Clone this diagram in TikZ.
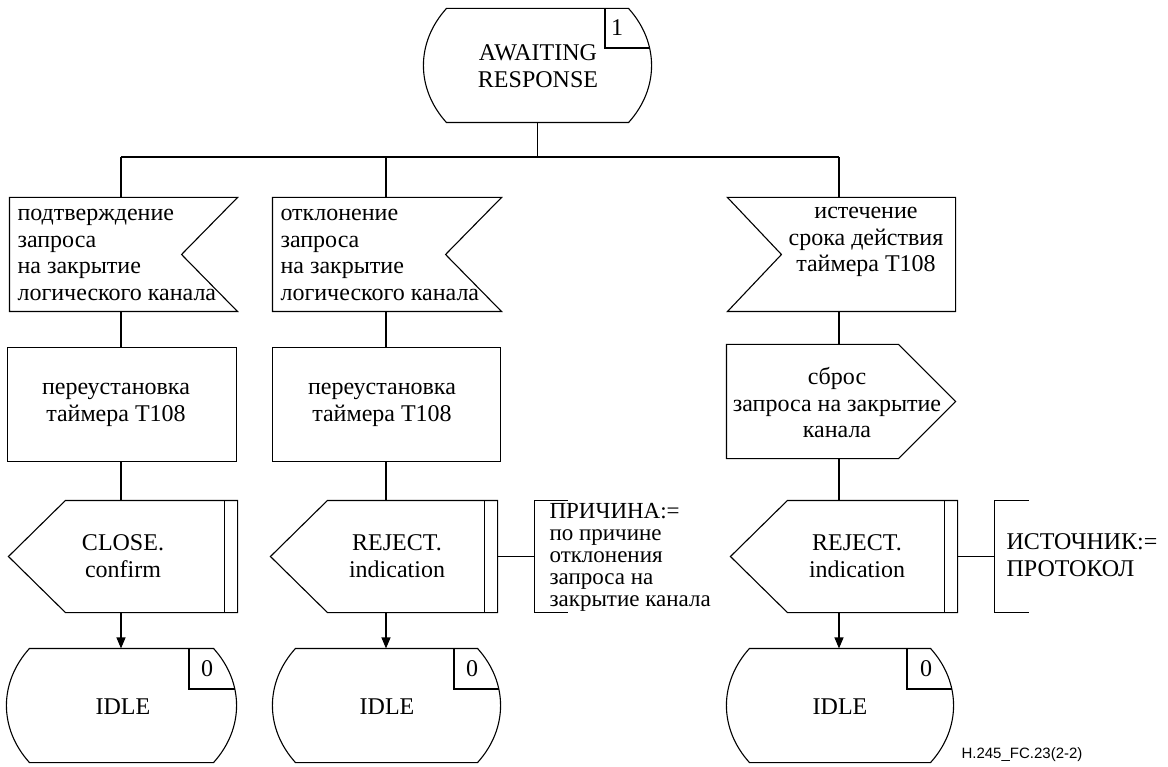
\documentclass[tikz,border=0pt]{standalone}
\usepackage{fontspec}
\setmainfont{Liberation Serif}
\newfontfamily\footfont{Liberation Sans}
\usetikzlibrary{arrows.meta}
\newcommand\StateShape[1]{([xshift=23pt]#1.north west) -- ([xshift=-23pt]#1.north east)
  .. controls ([xshift=7.7pt,yshift=-34pt]#1.north east) and ([xshift=7.7pt,yshift=34pt]#1.south east) .. ([xshift=-23pt]#1.south east)
  -- ([xshift=23pt]#1.south west)
  .. controls ([xshift=-7.7pt,yshift=34pt]#1.south west) and ([xshift=-7.7pt,yshift=-34pt]#1.north west) .. cycle}
\begin{document}
\begin{tikzpicture}[x=1pt,y=-1pt,line width=1.1pt,
  every node/.style={inner sep=0pt,font=\fontsize{24}{26.5}\selectfont},
  bb/.style n args={4}{minimum width={(#2-#1)*1pt},minimum height={(#4-#3)*1pt},at={({(#1+#2)/2},{(#3+#4)/2})}},
  txt/.style={align=center},
  txtl/.style={align=left,anchor=west},
  arr/.style={-{Triangle[length=11pt,width=9pt]}}]
\useasboundingbox (0,0) rectangle (1168,767);
% columns
\coordinate (c1) at (121,0);
\coordinate (c2) at (386,0);
\coordinate (c3) at (839,0);
% ---------- top state
\node[bb={424}{651}{9}{122}] (aw) {};
\draw \StateShape{aw};
\begin{scope}\clip \StateShape{aw};
  \draw (605,0) -- (605,48) -- (700,48);
\end{scope}
\node (aw-n) at (617,28) {1};
\node[txt] (aw-t) at (538,66) {AWAITING\\RESPONSE};
% bus
\coordinate (bus) at (aw.south |- 0,157);
\coordinate (busL) at (c1 |- bus);
\coordinate (busR) at (c3 |- bus);
% ---------- inputs
\node[bb={10}{237}{198}{311}] (r1) {};
\node[bb={273}{501}{198}{311}] (r2) {};
\node[bb={728}{955}{198}{311}] (r3) {};
\draw (r1.north west) -- (r1.north east) -- ([xshift=-56pt]r1.east) -- (r1.south east) -- (r1.south west) -- cycle;
\draw (r2.north west) -- (r2.north east) -- ([xshift=-56pt]r2.east) -- (r2.south east) -- (r2.south west) -- cycle;
\draw (r3.north west) -- (r3.north east) -- (r3.south east) -- (r3.south west) -- ([xshift=54pt]r3.west) -- cycle;
\node[txtl] (r1-t) at (17,255) {подтверждение\\запроса\\на закрытие\\логического канала};
\node[txtl] (r2-t) at (280,255) {отклонение\\запроса\\на закрытие\\логического канала};
\node[txt] (r3-t) at (866,242) {истечение\\срока действия\\таймера T108};
% ---------- tasks
\node[bb={8}{236}{348}{461}] (t1) {};
\node[bb={273}{500}{348}{461}] (t2) {};
\node[bb={727}{955}{345}{458}] (p3) {};
\draw (t1.north west) rectangle (t1.south east);
\draw (t2.north west) rectangle (t2.south east);
\draw (p3.north west) -- ([xshift=-57pt]p3.north east) -- (p3.east) -- ([xshift=-57pt]p3.south east) -- (p3.south west) -- cycle;
\node[txt] (t1-t) at (116,405) {переустановка\\таймера T108};
\node[txt] (t2-t) at (382,405) {переустановка\\таймера T108};
\node[txt] (p3-t) at (837,403) {сброс\\запроса на закрытие\\канала};
% ---------- outputs
\node[bb={9}{237}{501}{612}] (o1) {};
\node[bb={271}{497}{501}{612}] (o2) {};
\node[bb={731}{957}{501}{612}] (o3) {};
\foreach \o in {o1,o2,o3}{
  \draw ([xshift=57pt]\o.north west) -- (\o.north east) -- (\o.south east) -- ([xshift=57pt]\o.south west) -- (\o.west) -- cycle;
  \draw ([xshift=-13pt]\o.north east) -- ([xshift=-13pt]\o.south east);
}
\node[txt] (o1-t) at (123,556) {CLOSE.\\confirm};
\node[txt] (o2-t) at (397,556) {REJECT.\\indication};
\node[txt] (o3-t) at (857,556) {REJECT.\\indication};
% ---------- comments
\node[bb={535}{567}{501}{612}] (cb2) {};
\node[bb={995}{1028}{501}{612}] (cb3) {};
\draw (cb2.north east) -- (cb2.north west) -- (cb2.south west) -- (cb2.south east);
\draw (cb3.north east) -- (cb3.north west) -- (cb3.south west) -- (cb3.south east);
\draw (o2.east) -- (cb2.west);
\draw (o3.east) -- (cb3.west);
\node[txtl,font=\fontsize{23}{22}\selectfont] (cm2) at (549,557) {ПРИЧИНА:=\\по причине\\отклонения\\запроса на\\закрытие канала};
\node[txtl] (cm3) at (1006,555) {ИСТОЧНИК:=\\ПРОТОКОЛ};
% ---------- end states
\node[bb={7}{236}{649}{762}] (s1) {};
\node[bb={273}{500}{649}{762}] (s2) {};
\node[bb={727}{953}{649}{762}] (s3) {};
\draw \StateShape{s1};
\draw \StateShape{s2};
\draw \StateShape{s3};
\begin{scope}\clip \StateShape{s1}; \draw (189,640) -- (189,689) -- (260,689); \end{scope}
\begin{scope}\clip \StateShape{s2}; \draw (454,640) -- (454,689) -- (520,689); \end{scope}
\begin{scope}\clip \StateShape{s3}; \draw (907,640) -- (907,689) -- (980,689); \end{scope}
\node (s1-n) at (207,669) {0};
\node (s2-n) at (472,669) {0};
\node (s3-n) at (926,669) {0};
\node[txt] (s1-t) at (123,707) {IDLE};
\node[txt] (s2-t) at (387,707) {IDLE};
\node[txt] (s3-t) at (840,707) {IDLE};
% ---------- connectors
\draw (aw.south) -- (bus);
\draw (busL) -- (busR);
\draw (busL) -- (c1 |- r1.north);
\draw (c2 |- bus) -- (c2 |- r2.north);
\draw (busR) -- (c3 |- r3.north);
\draw (c1 |- r1.south) -- (c1 |- t1.north);
\draw (c2 |- r2.south) -- (c2 |- t2.north);
\draw (c3 |- r3.south) -- (c3 |- p3.north);
\draw (c1 |- t1.south) -- (c1 |- o1.north);
\draw (c2 |- t2.south) -- (c2 |- o2.north);
\draw (c3 |- p3.south) -- (c3 |- o3.north);
\draw[arr] (c1 |- o1.south) -- (c1 |- s1.north);
\draw[arr] (c2 |- o2.south) -- (c2 |- s2.north);
\draw[arr] (c3 |- o3.south) -- (c3 |- s3.north);
% footer
\node[anchor=west,font=\footfont\fontsize{15}{17}\selectfont] (foot) at (961,755) {H.245\_FC.23(2-2)};
\end{tikzpicture}
\end{document}
